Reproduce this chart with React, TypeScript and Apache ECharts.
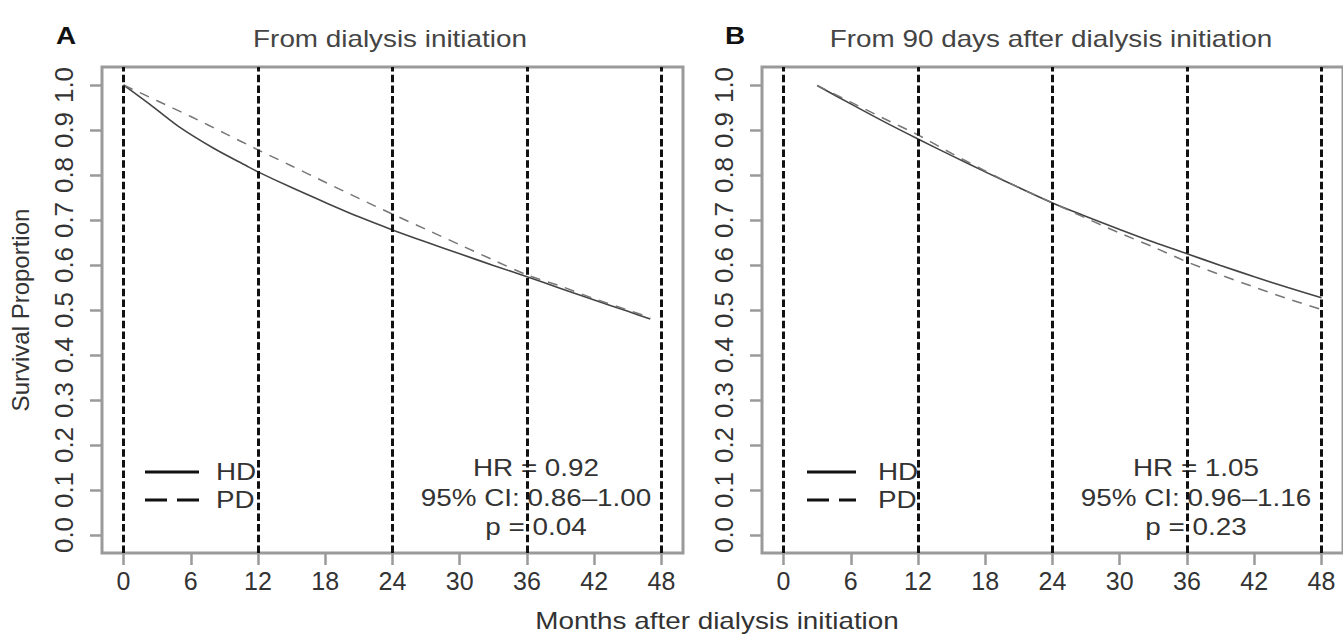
import React, { useEffect, useRef } from "react";
import * as echarts from "echarts";

// ---- data ----
const xTicks = [0, 6, 12, 18, 24, 30, 36, 42, 48];
const yTicks = [0, 0.1, 0.2, 0.3, 0.4, 0.5, 0.6, 0.7, 0.8, 0.9, 1.0];
const refLines = [0, 12, 24, 36, 48];

// Panel A: from dialysis initiation
const monthsA_HD = [0, 1, 2.3, 4.9, 8, 11, 12, 15, 18, 21, 24, 27, 30, 33, 36, 39, 42, 45, 47];
const survA_HD = [1.0, 0.982, 0.958, 0.908, 0.86, 0.82, 0.807, 0.772, 0.739, 0.707, 0.678, 0.651, 0.625, 0.599, 0.574, 0.548, 0.522, 0.497, 0.48];
const monthsA_PD = [0, 3, 6, 9, 12, 15, 18, 21, 24, 27, 30, 33, 36, 39, 42, 45, 47];
const survA_PD = [1.0, 0.965, 0.93, 0.893, 0.856, 0.82, 0.784, 0.748, 0.713, 0.679, 0.645, 0.611, 0.578, 0.553, 0.525, 0.5, 0.483];

// Panel B: from 90 days after dialysis initiation
const monthsB_HD = [3, 6, 9, 12, 15, 18, 21, 24, 27, 30, 33, 36, 39, 42, 45, 48];
const survB_HD = [0.999, 0.958, 0.918, 0.88, 0.843, 0.807, 0.772, 0.738, 0.708, 0.679, 0.651, 0.625, 0.599, 0.574, 0.55, 0.527];
const monthsB_PD = [3, 6, 9, 12, 15, 18, 21, 24, 27, 30, 33, 36, 39, 42, 45, 48];
const survB_PD = [0.999, 0.962, 0.925, 0.889, 0.848, 0.809, 0.772, 0.738, 0.704, 0.671, 0.64, 0.607, 0.578, 0.551, 0.525, 0.501];

const statsA = ["HR = 0.92", "95% CI: 0.86\u20131.00", "p = 0.04"];
const statsB = ["HR = 1.05", "95% CI: 0.96\u20131.16", "p = 0.23"];

const FONT = '"Liberation Sans", Arial, Helvetica, sans-serif';
const FS = 24;
const SX = 1.16;
const TXT = "#333";
const BORDER = "#9a9a9a";

const pairs = (xs: number[], ys: number[]) => xs.map((x, i) => [x, ys[i]]);

function axesFor(i: number) {
  const x = {
    type: "value",
    gridIndex: i,
    min: -1.92,
    max: 49.92,
    axisLine: { show: false, onZero: false },
    splitLine: { show: false },
    axisTick: { show: true, length: 12, customValues: xTicks, lineStyle: { color: BORDER, width: 2.5 } },
    axisLabel: { customValues: xTicks, margin: 15, fontSize: 25, fontFamily: FONT, color: TXT },
  };
  const y: any = {
    type: "value",
    gridIndex: i,
    min: -0.04,
    max: 1.04,
    axisLine: { show: false, onZero: false },
    splitLine: { show: false },
    axisTick: { show: true, length: 12, customValues: yTicks, lineStyle: { color: BORDER, width: 2.5 } },
    axisLabel: {
      customValues: yTicks,
      rotate: 90,
      margin: 25,
      fontSize: 26,
      fontFamily: FONT,
      color: TXT,
      formatter: (v: number) => v.toFixed(1),
    },
  };
  if (i === 0) {
    y.name = "Survival Proportion";
    y.nameLocation = "middle";
    y.nameGap = 70;
    y.nameTextStyle = { fontSize: FS, fontFamily: FONT, color: TXT };
  }
  return { x, y };
}

function curve(name: string, i: number, data: number[][], dashed: boolean, withRef: boolean) {
  const s: any = {
    name,
    type: "line",
    xAxisIndex: i,
    yAxisIndex: i,
    data,
    symbol: "none",
    showSymbol: false,
    smooth: 0.3,
    lineStyle: dashed
      ? { color: "#777", width: 1.5, type: [10, 8] }
      : { color: "#444", width: 1.6, type: "solid" },
    z: 3,
  };
  if (withRef) {
    s.markLine = {
      silent: true,
      symbol: "none",
      label: { show: false },
      lineStyle: { color: "#111", width: 3, type: [7.5, 3.2] },
      data: refLines.map((v) => ({ xAxis: v })),
    };
  }
  return s;
}

function txt(x: number, y: number, text: string, align: string, fill = TXT, font = `${FS}px ${FONT}`) {
  return {
    type: "text",
    x,
    y,
    scaleX: SX,
    style: { text, font, fill, textAlign: align, textVerticalAlign: "middle" },
  };
}

function legendGraphics(x0: number, x1: number, tx: number) {
  return [
    { type: "line", shape: { x1: x0, y1: 472, x2: x1, y2: 472 }, style: { stroke: "#111", lineWidth: 3 } },
    { type: "line", shape: { x1: x0, y1: 500, x2: x1, y2: 500 }, style: { stroke: "#111", lineWidth: 3, lineDash: [22, 10] } },
    txt(tx, 472, "HD", "left"),
    txt(tx, 500, "PD", "left"),
  ];
}

function statGraphics(cx: number, lines: string[]) {
  return lines.map((t, k) => txt(cx, 468 + k * 29.5, t, "center"));
}

export default function App() {
  const ref = useRef<HTMLDivElement>(null);
  useEffect(() => {
    if (!ref.current) return;
    const chart = echarts.init(ref.current, undefined, { renderer: "svg" });
    const a = axesFor(0);
    const b = axesFor(1);
    chart.setOption({
      animation: false,
      backgroundColor: "#fff",
      grid: [
        { left: 102, top: 67, width: 581, height: 486, show: true, borderColor: BORDER, borderWidth: 3, backgroundColor: "transparent" },
        { left: 762, top: 67, width: 581, height: 486, show: true, borderColor: BORDER, borderWidth: 3, backgroundColor: "transparent" },
      ],
      xAxis: [a.x, b.x],
      yAxis: [a.y, b.y],
      series: [
        curve("HD", 0, pairs(monthsA_HD, survA_HD), false, true),
        curve("PD", 0, pairs(monthsA_PD, survA_PD), true, false),
        curve("HD", 1, pairs(monthsB_HD, survB_HD), false, true),
        curve("PD", 1, pairs(monthsB_PD, survB_PD), true, false),
      ],
      graphic: [
        txt(66, 36, "A", "center", "#111", `bold 24px ${FONT}`),
        txt(735, 36, "B", "center", "#111", `bold 24px ${FONT}`),
        txt(390, 39, "From dialysis initiation", "center", "#444"),
        txt(1051, 39, "From 90 days after dialysis initiation", "center", "#444"),
        txt(717, 621, "Months after dialysis initiation", "center"),
        ...legendGraphics(145, 199, 216),
        ...legendGraphics(807, 856, 878),
        ...statGraphics(536, statsA),
        ...statGraphics(1196, statsB),
      ],
    });
    return () => chart.dispose();
  }, []);
  return <div ref={ref} style={{ position: "fixed", left: 0, top: 0, width: 1343, height: 635, background: "#fff" }} />;
}
